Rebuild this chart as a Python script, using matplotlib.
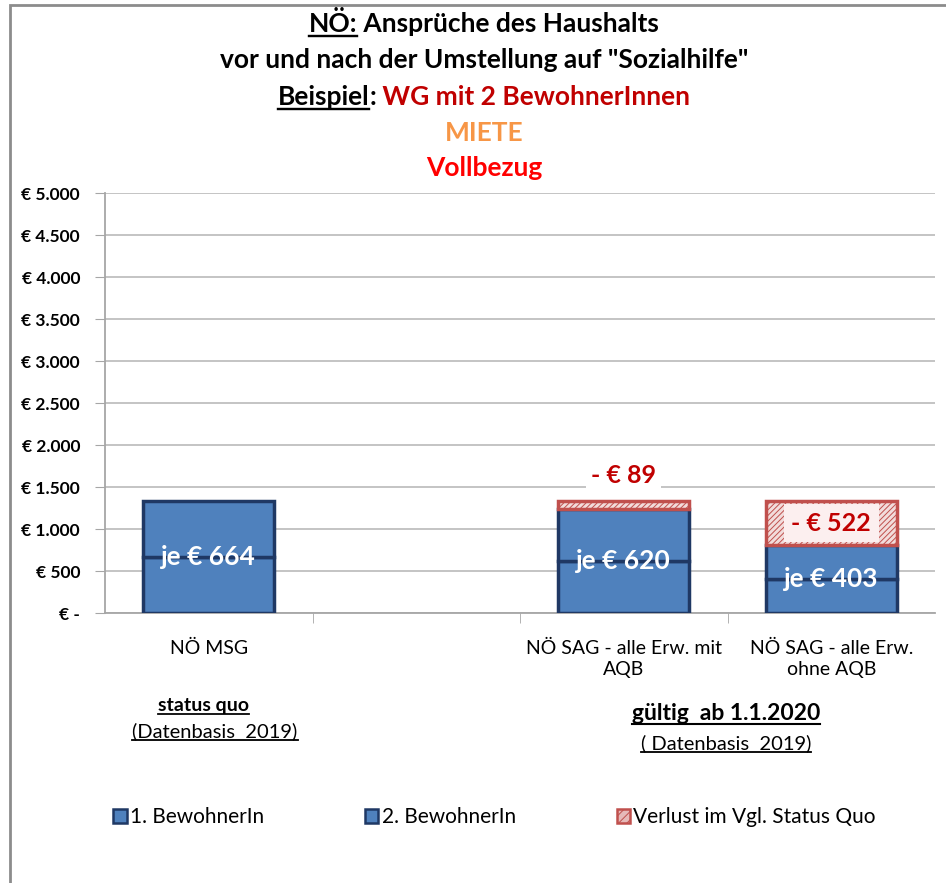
import numpy as np
import matplotlib
matplotlib.use("Agg")
import matplotlib.pyplot as plt
from matplotlib.patches import Patch, Rectangle
from matplotlib.lines import Line2D

plt.rcParams['font.family'] = ['Lato', 'DejaVu Sans']
plt.rcParams['hatch.linewidth'] = 0.7

# chart data
categories = ["NÖ MSG", "", "NÖ SAG - alle Erw. mit\nAQB", "NÖ SAG - alle Erw.\nohne AQB"]
bar_slots = [0, 2, 3]
person1 = [664, 620, 403]
person2 = [664, 620, 403]
loss = [0, 89, 522]
person_labels = ["je € 664", "je € 620", "je € 403"]
loss_labels = ["", "- € 89", "- € 522"]
ytick_values = [0, 500, 1000, 1500, 2000, 2500, 3000, 3500, 4000, 4500, 5000]
ytick_labels = ["€ -", "€ 500", "€ 1.000", "€ 1.500", "€ 2.000", "€ 2.500",
                "€ 3.000", "€ 3.500", "€ 4.000", "€ 4.500", "€ 5.000"]
legend_labels = ["1. BewohnerIn", "2. BewohnerIn", "Verlust im Vgl. Status Quo"]

blue = "#4F81BD"
navy = "#1F3864"
red_edge = "#C0504D"
dark_red = "#C00000"

W, H = 946, 883
fig = plt.figure(figsize=(W / 100, H / 100), dpi=100)
ax = fig.add_axes([105 / W, 1 - 613 / H, (935 - 105) / W, (613 - 193) / H])

# stacked bars
ax.bar(bar_slots, person1, width=0.63, color=blue, edgecolor=navy, linewidth=2.5, zorder=3)
ax.bar(bar_slots, person2, width=0.63, bottom=person1, color=blue, edgecolor=navy,
       linewidth=2.5, zorder=3)
base = np.array(person1) + np.array(person2)
for x, b, l in zip(bar_slots, base, loss):
    if l > 0:
        ax.bar(x, l, width=0.63, bottom=b, color="#F2DCDB", edgecolor=red_edge,
               hatch="//////", linewidth=2.5, zorder=3)

# value labels
for x, v, txt in zip(bar_slots, person1, person_labels):
    ax.text(x, v, txt, ha="center", va="center", color="white", fontsize=19,
            fontweight="bold", zorder=5)

ax.annotate(loss_labels[1], (bar_slots[1], base[1] + loss[1]), xytext=(0, 10),
            textcoords="offset points", ha="center", va="bottom", color=dark_red,
            fontsize=18, fontweight="bold", zorder=5,
            bbox=dict(boxstyle="square,pad=0.2", fc="white", ec="none"))
ax.text(bar_slots[2], base[2] + loss[2] / 2, loss_labels[2], ha="center", va="center",
        color=dark_red, fontsize=18, fontweight="bold", zorder=5,
        bbox=dict(boxstyle="square,pad=0.3", fc="#FCEFEF", ec="none"))

# axes styling
ax.set_xlim(-0.5, 3.5)
ax.set_ylim(0, 5000)
ax.set_yticks(ytick_values, ytick_labels, fontsize=12.5, fontweight="bold")
ax.yaxis.grid(True, color="#BFBFBF", linewidth=1.3, zorder=0)
ax.set_axisbelow(True)
ax.set_xticks(range(len(categories)), categories, fontsize=14, linespacing=1.3)
ax.set_xticks([0.5, 1.5, 2.5], minor=True)
ax.tick_params(axis="x", which="major", length=0, pad=19)
ax.tick_params(axis="x", which="minor", length=7, color="#A6A6A6")
ax.tick_params(axis="y", length=7, color="#A6A6A6", pad=11)
for s in ["top", "right"]:
    ax.spines[s].set_visible(False)
for s in ["left", "bottom"]:
    ax.spines[s].set_color("#A6A6A6")
    ax.spines[s].set_linewidth(1.3)

# outer frame
fig.add_artist(Rectangle((10 / W, -0.05), 1.0, 1 - 5 / H + 0.05, fill=False,
                         edgecolor="#8C8C8C", linewidth=2, transform=fig.transFigure))

fig.canvas.draw()
renderer = fig.canvas.get_renderer()


def underline(t, size):
    bb = t.get_window_extent(renderer)
    y = t.get_position()[1] - size * 0.16 / 72 * 100 / H
    fig.add_artist(Line2D([bb.x0 / W, bb.x1 / W], [y, y], color=t.get_color(),
                          linewidth=size / 11, transform=fig.transFigure))


def centered_line(cx, ybase, parts, size, weight="bold"):
    texts = []
    for s, col, ul in parts:
        texts.append((fig.text(0, ybase, s, ha="left", va="baseline", color=col,
                               fontsize=size, fontweight=weight), ul))
    fig.canvas.draw()
    widths = [t.get_window_extent(renderer).width for t, _ in texts]
    x = cx * W - sum(widths) / 2
    for (t, ul), w in zip(texts, widths):
        t.set_x(x / W)
        x += w
    fig.canvas.draw()
    for t, ul in texts:
        if ul:
            underline(t, size)


# title lines
cx = 484 / W
centered_line(cx, 1 - 32 / H, [("NÖ:", "black", True), (" Ansprüche des Haushalts", "black", False)], 19)
centered_line(cx, 1 - 68 / H, [('vor und nach der Umstellung auf "Sozialhilfe"', "black", False)], 19)
centered_line(cx, 1 - 105 / H, [("Beispiel", "black", True), (":", "black", False),
                                (" WG mit 2 BewohnerInnen", dark_red, False)], 19)
centered_line(cx, 1 - 141 / H, [("MIETE", "#F79646", False)], 19)
centered_line(cx, 1 - 176 / H, [("Vollbezug", "#FF0000", False)], 19)

# group labels under the axis
centered_line(203 / W, 1 - 711 / H, [("status quo", "black", True)], 14)
centered_line(215 / W, 1 - 737 / H, [("(Datenbasis  2019)", "black", True)], 14.5, weight="normal")
centered_line(726 / W, 1 - 720 / H, [("gültig  ab 1.1.2020", "black", True)], 16.5)
centered_line(726 / W, 1 - 749 / H, [("( Datenbasis  2019)", "black", True)], 14.5, weight="normal")

# legend
handles = [Patch(facecolor=blue, edgecolor=navy, linewidth=1.8),
           Patch(facecolor=blue, edgecolor=navy, linewidth=1.8),
           Patch(facecolor="#E6B9B8", edgecolor=red_edge, hatch="////", linewidth=1.8)]
fig.legend(handles, legend_labels, loc="center left", bbox_to_anchor=(113 / W, 1 - 817 / H),
           ncol=3, frameon=False, fontsize=15, handlelength=0.65, handleheight=0.65,
           handletextpad=0.15, columnspacing=4.85, borderpad=0, borderaxespad=0)

fig.savefig("out.png", dpi=100)
